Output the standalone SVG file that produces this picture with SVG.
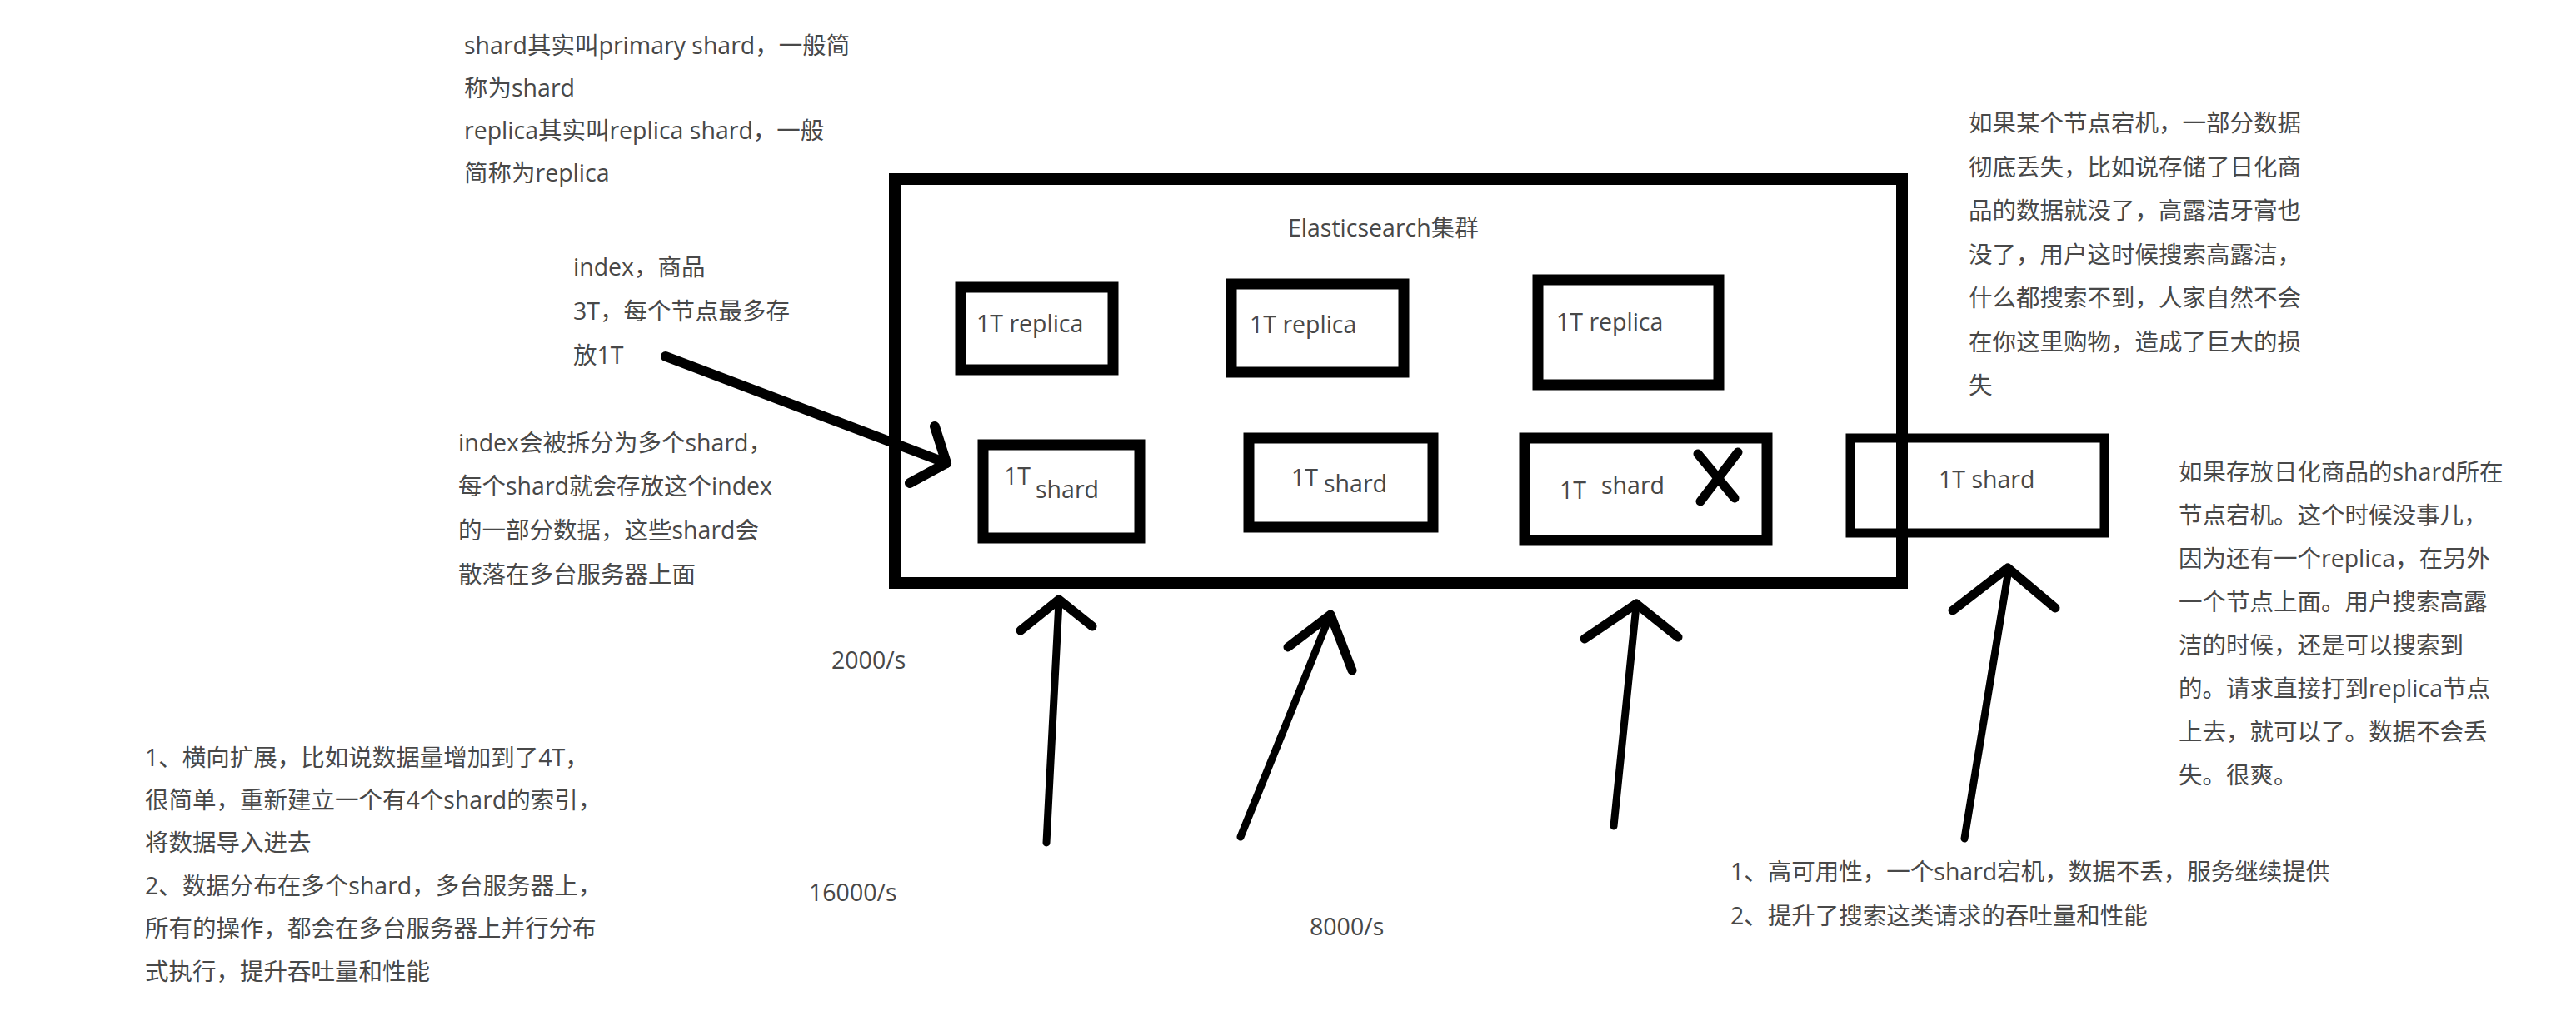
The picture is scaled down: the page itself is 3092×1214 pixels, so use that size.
<svg xmlns="http://www.w3.org/2000/svg" width="3092" height="1214" viewBox="0 0 3092 1214">
<style>
  text { font-family: "Open Sans", "Noto Sans CJK SC", sans-serif; font-size: 28.5px; fill: #484848; }
  .box { fill: none; stroke: #000; stroke-width: 13; }
  .cluster { fill: none; stroke: #000; stroke-width: 14; }
  .arrow { fill: none; stroke: #000; stroke-width: 9; stroke-linecap: round; stroke-linejoin: round; }
  .head { fill: none; stroke: #000; stroke-width: 11; stroke-linecap: round; stroke-linejoin: round; }
</style>
<rect width="3092" height="1214" fill="#fff"/>

<g id="note-top-left">
  <text x="557" y="65">shard其实叫primary shard，一般简</text>
  <text x="557" y="116">称为shard</text>
  <text x="557" y="167">replica其实叫replica shard，一般</text>
  <text x="557" y="218">简称为replica</text>
</g>

<g id="note-index">
  <text x="688" y="331">index，商品</text>
  <text x="688" y="384">3T，每个节点最多存</text>
  <text x="688" y="437">放1T</text>
</g>

<g id="note-split">
  <text x="550" y="542">index会被拆分为多个shard，</text>
  <text x="550" y="594">每个shard就会存放这个index</text>
  <text x="550" y="647">的一部分数据，这些shard会</text>
  <text x="550" y="700">散落在多台服务器上面</text>
</g>

<g id="cluster">
  <rect class="cluster" x="1074" y="215" width="1209" height="485"/>
  <text x="1546" y="284">Elasticsearch集群</text>
</g>

<g id="replica-1">
  <rect class="box" x="1153" y="345" width="183" height="99"/>
  <text x="1172" y="399">1T replica</text>
</g>
<g id="replica-2">
  <rect class="box" x="1478" y="341" width="207" height="106"/>
  <text x="1500" y="400">1T replica</text>
</g>
<g id="replica-3">
  <rect class="box" x="1846" y="336" width="217" height="126"/>
  <text x="1868" y="397">1T replica</text>
</g>

<g id="shard-1">
  <rect class="box" x="1180" y="534" width="188" height="112"/>
  <text x="1205" y="582">1T</text>
  <text x="1243" y="598">shard</text>
</g>
<g id="shard-2">
  <rect class="box" x="1499" y="526" width="221" height="107"/>
  <text x="1550" y="584">1T</text>
  <text x="1589" y="591">shard</text>
</g>
<g id="shard-3">
  <rect class="box" x="1830" y="526" width="291" height="123"/>
  <text x="1872" y="599">1T</text>
  <text x="1922" y="593">shard</text>
  <path d="M2038 545 L2082 598 M2086 543 L2041 602" stroke="#000" stroke-width="11" stroke-linecap="round" fill="none"/>
</g>
<g id="shard-4">
  <rect class="box" x="2221" y="526" width="305" height="114" style="stroke-width:11"/>
  <text x="2327" y="586">1T shard</text>
</g>

<g id="note-down">
  <text x="2363" y="158">如果某个节点宕机，一部分数据</text>
  <text x="2363" y="210.5">彻底丢失，比如说存储了日化商</text>
  <text x="2363" y="263">品的数据就没了，高露洁牙膏也</text>
  <text x="2363" y="315.5">没了，用户这时候搜索高露洁，</text>
  <text x="2363" y="368">什么都搜索不到，人家自然不会</text>
  <text x="2363" y="420.5">在你这里购物，造成了巨大的损</text>
  <text x="2363" y="473">失</text>
</g>

<g id="note-replica">
  <text x="2615" y="577">如果存放日化商品的shard所在</text>
  <text x="2615" y="629">节点宕机。这个时候没事儿，</text>
  <text x="2615" y="681">因为还有一个replica，在另外</text>
  <text x="2615" y="733">一个节点上面。用户搜索高露</text>
  <text x="2615" y="785">洁的时候，还是可以搜索到</text>
  <text x="2615" y="837">的。请求直接打到replica节点</text>
  <text x="2615" y="889">上去，就可以了。数据不会丢</text>
  <text x="2615" y="941">失。很爽。</text>
</g>

<g id="note-scale">
  <text x="174" y="920">1、横向扩展，比如说数据量增加到了4T，</text>
  <text x="174" y="971">很简单，重新建立一个有4个shard的索引，</text>
  <text x="174" y="1022">将数据导入进去</text>
  <text x="174" y="1074">2、数据分布在多个shard，多台服务器上，</text>
  <text x="174" y="1125">所有的操作，都会在多台服务器上并行分布</text>
  <text x="174" y="1177">式执行，提升吞吐量和性能</text>
</g>

<g id="note-ha">
  <text x="2077" y="1057">1、高可用性，一个shard宕机，数据不丢，服务继续提供</text>
  <text x="2077" y="1110">2、提升了搜索这类请求的吞吐量和性能</text>
</g>

<g id="rates">
  <text x="998" y="803">2000/s</text>
  <text x="971" y="1082">16000/s</text>
  <text x="1572" y="1123">8000/s</text>
</g>

<g id="connectors">
  <path class="head" d="M799 428 L1136 556" style="stroke-width:12"/>
  <path class="head" d="M1122 512 L1136 556 L1092 580" style="stroke-width:12"/>

  <path class="arrow" d="M1256 1012 L1271 722"/>
  <path class="head" d="M1225 757 L1271 720 L1311 752"/>

  <path class="arrow" d="M1489 1005 L1596 740"/>
  <path class="head" d="M1546 777 L1597 738 L1623 805"/>

  <path class="arrow" d="M1937 992 L1964 727"/>
  <path class="head" d="M1902 767 L1964 725 L2014 765"/>

  <path class="arrow" d="M2358 1007 L2410 690"/>
  <path class="head" d="M2344 733 L2410 682 L2467 730"/>
</g>
</svg>
